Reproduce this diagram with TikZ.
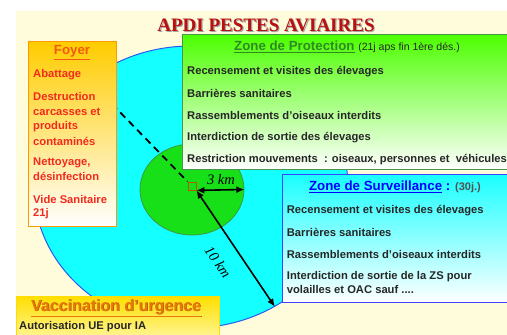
\documentclass[tikz,border=0pt]{standalone}
\usepackage{fontspec}
\setmainfont{Liberation Sans}
\newfontfamily\tnr{Liberation Serif}
\usetikzlibrary{shapes.geometric,arrows.meta}
\definecolor{fond}{HTML}{FFFCDC}
\definecolor{cyanzs}{HTML}{14FFFF}
\definecolor{bordzs}{HTML}{2B5BEE}
\definecolor{vertzp}{HTML}{18E018}
\definecolor{bordzp}{HTML}{3C9A3C}
\definecolor{rougefoyer}{HTML}{F22A1E}
\definecolor{orangefoyer}{HTML}{F25A10}
\definecolor{vertTitre}{HTML}{2E8B22}
\definecolor{texte}{HTML}{262626}
\definecolor{orvacc}{HTML}{E8780C}
\definecolor{titrerouge}{HTML}{BA1010}
\begin{document}
\begin{tikzpicture}[x=1pt,y=-1pt,
	boite/.style={anchor=north west,inner sep=0pt,line width=.8pt},
	ligne/.style={anchor=west,inner sep=0pt,text=texte,
		font=\fontsize{11.2}{13}\selectfont\bfseries},
	rouge/.style={ligne,text=rougefoyer},
	titre/.style={inner sep=0pt,font=\fontsize{13.3}{15}\selectfont\bfseries},
	km/.style={inner sep=0pt,font=\tnr\itshape\fontsize{14.5}{16}\selectfont},
	fleche/.style={line width=1.6pt,{Latex[length=8pt,width=7pt]}-{Latex[length=8pt,width=7pt]}}]
\useasboundingbox (0,0) rectangle (507,335);
\clip (0,0) rectangle (507,335);
\fill[fond] (16,11) rectangle (507,335);
% zones
\node[ellipse,draw=bordzs,line width=1pt,fill=cyanzs,inner sep=0pt,
	minimum width=314pt,minimum height=282pt] (zs) at (191,187) {};
\node[ellipse,draw=bordzp,line width=.8pt,fill=vertzp,inner sep=0pt,
	minimum width=104pt,minimum height=91pt] (zp) at (192,189.5) {};
\node[draw=orange!70!black,line width=.8pt,minimum size=8pt,inner sep=0pt] (sq) at (192,186) {};
\coordinate (dep) at (112,104);
\draw[line width=1.8pt,dash pattern=on 7pt off 5pt] (dep) -- (sq.north west);
\draw[fleche] (sq.south east) -- (zp.east);
\draw[fleche] (sq.south east) -- (zs.-55);
\node[km] (l3) at (221,180) {3 km};
\node[km,rotate=-55] (l10) at (218,262) {10 km};
% foyer
\node[boite,draw=orange!80!yellow,top color=orange!40!yellow,bottom color=white,
	minimum width=88pt,minimum height=185pt] (foyer) at (28,41) {};
\node[titre,text=orangefoyer] (tfoyer) at (72,52.7) {\underline{Foyer}};
\foreach \t/\y [count=\i] in {Abattage/75,Destruction/96.7,carcasses et/111.7,
	produits/126.7,contaminés/141,{Nettoyage,}/163.3,désinfection/176.7,
	Vide Sanitaire/199.3,21j/213.3}
	\node[rouge] (f\i) at (33,\y) {\t};
% protection
\node[boite,draw=bordzp!80!gray,top color=green!60!lime,bottom color=white,
	minimum width=340pt,minimum height=135pt] (prot) at (182,34) {};
\node[titre] (tprot) at (347,47) {\textcolor{vertTitre}{\underline{Zone de Protection}}
	{\mdseries\fontsize{10.5}{12}\selectfont\color{texte}(21j aps fin 1ère dés.)}};
\foreach \t [count=\i] in {Recensement et visites des élevages,Barrières  sanitaires,
	Rassemblements  d’oiseaux interdits,Interdiction de sortie des élevages,
	{Restriction mouvements~ : oiseaux, personnes et~ véhicules}}
	\node[ligne] (p\i) at (187,49.8+21.9*\i) {\t};
% surveillance
\node[boite,draw=blue!75!white,top color=cyan!90!white,bottom color=white,
	minimum width=240pt,minimum height=128pt] (surv) at (282,174) {};
\node[titre] (tsurv) at (395,187) {\textcolor{blue}{\underline{Zone de Surveillance} :}
	{\fontsize{11}{12}\selectfont\color{texte!80}(30j.)}};
\foreach \t/\y [count=\i] in {Recensement et visites des élevages/210.7,
	Barrières sanitaires/232.3,Rassemblements  d’oiseaux interdits/254.3,
	Interdiction de sortie de la ZS pour/276.7}
	\node[ligne] (s\i) at (286.7,\y) {\t};
\node[ligne] (s5) at (286.7,289.3) {volailles et OAC sauf ....};
% vaccination
\node[boite,draw=yellow!80!orange,top color=yellow!75!orange,bottom color=yellow!15,
	minimum width=203pt,minimum height=60pt] (vacc) at (16,296) {};
\node[titre,font=\fontsize{16}{18}\selectfont\bfseries,text=orange!70!black] (ovacc) at (116.7,308.7) {\underline{Vaccination d’urgence}};
\node[titre,font=\fontsize{16}{18}\selectfont\bfseries,text=orvacc] (tvacc) at (116,308) {\underline{Vaccination d’urgence}};
\node[ligne] (v1) at (19,327) {Autorisation UE pour IA};
% titre
\node[inner sep=0pt,font=\tnr\bfseries\fontsize{19}{21}\selectfont,text=gray!70] (ombre) at (267.2,26.2) {APDI PESTES AVIAIRES};
\node[inner sep=0pt,font=\tnr\bfseries\fontsize{19}{21}\selectfont,text=titrerouge] (titre) at (266,25) {APDI PESTES AVIAIRES};
\end{tikzpicture}
\end{document}
